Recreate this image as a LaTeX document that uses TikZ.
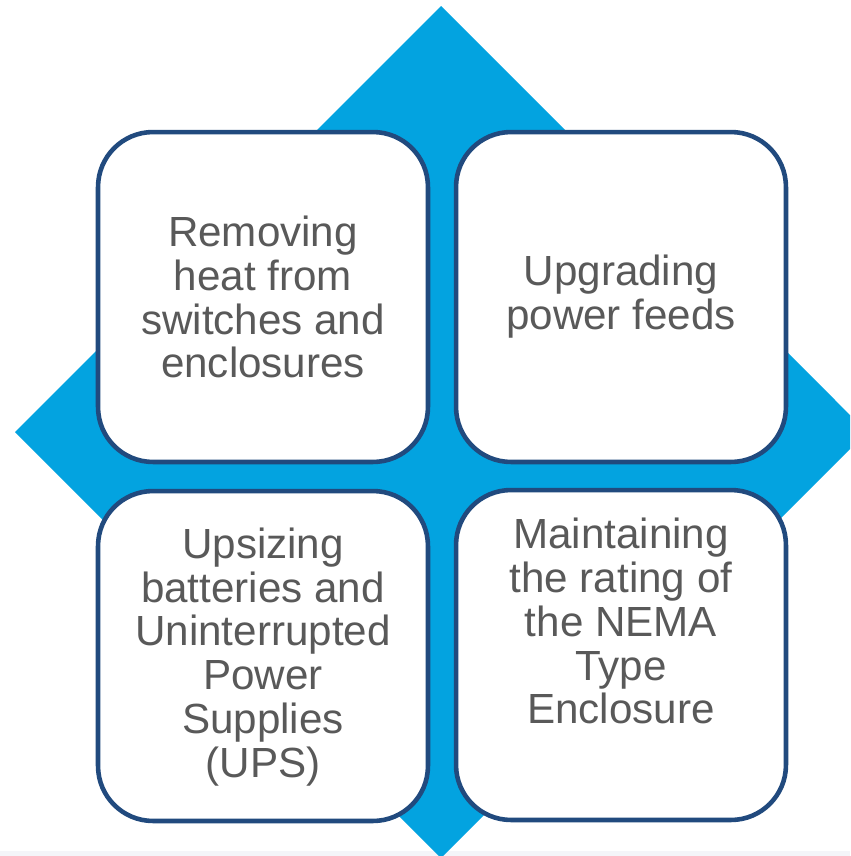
\documentclass[tikz,border=0pt]{standalone}
\usepackage{fontspec}
\setmainfont{Liberation Sans}

\definecolor{diamondblue}{RGB}{3,163,224}
\definecolor{edgeblue}{RGB}{33,74,126}
\definecolor{textgray}{RGB}{89,89,89}
\definecolor{stripgray}{RGB}{244,245,249}

\tikzset{
  card/.style={draw=edgeblue, line width=2.6pt, fill=white,
    rounded corners=1.1cm, minimum width=6.6cm, minimum height=6.6cm,
    inner sep=0pt},
  cardtext/.style={text=textgray, align=center, inner sep=0pt,
    font=\fontsize{24}{25}\selectfont},
}

\begin{document}
\begin{tikzpicture}[x=0.02cm, y=-0.02cm]
  \useasboundingbox (0,0) rectangle (850,856);
  \clip (0,0) rectangle (850,856);
  \fill[white] (0,0) rectangle (850,856);
  \fill[stripgray] (0,851) rectangle (850,856);
  % big diamond behind the four cards
  \fill[diamondblue] (441,6) -- (867,432) -- (441,858) -- (15,432) -- cycle;
  \foreach \cx/\cy/\nm in {263/297/rem, 621/297/upg, 263/656/ups, 621/655/nema}
    \node[card] (\nm) at (\cx,\cy) {};
  \node[cardtext] (remtext) at (263,297) {Removing\\heat from\\switches and\\enclosures};
  \node[cardtext] (upgtext) at (621,297) {Upgrading\\power feeds};
  \node[cardtext] (upstext) at (263,657) {Upsizing\\batteries and\\Uninterrupted\\Power\\Supplies\\(UPS)};
  \node[cardtext] (nematext) at (621,621) {Maintaining\\the rating of\\the NEMA\\Type\\Enclosure};
\end{tikzpicture}
\end{document}
